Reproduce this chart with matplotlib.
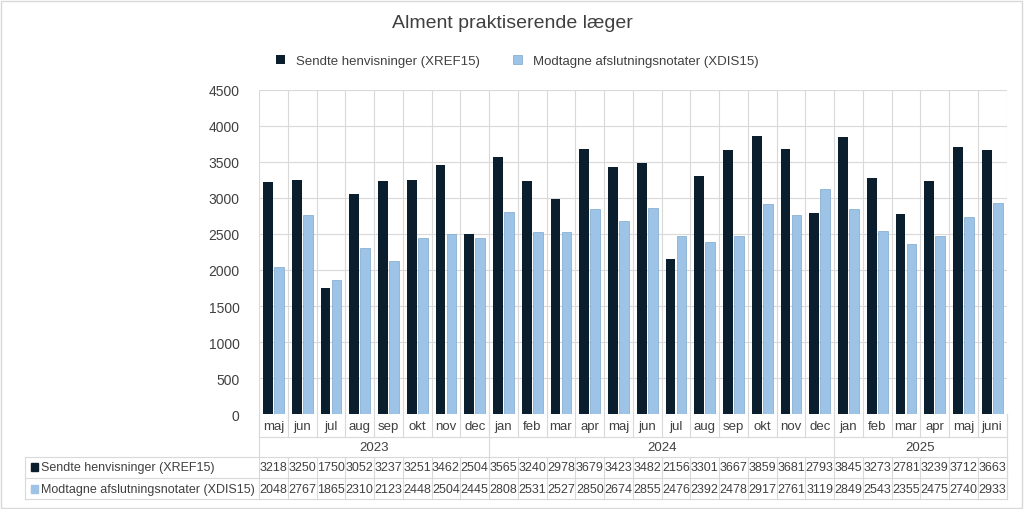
import matplotlib
matplotlib.use('Agg')
import matplotlib.pyplot as plt
import matplotlib.transforms as mtransforms
from matplotlib.patches import Rectangle
import numpy as np

months = ["maj", "jun", "jul", "aug", "sep", "okt", "nov", "dec",
          "jan", "feb", "mar", "apr", "maj", "jun", "jul", "aug", "sep", "okt", "nov", "dec",
          "jan", "feb", "mar", "apr", "maj", "juni"]
years = ["2023", "2024", "2025"]
year_counts = [8, 12, 6]
sendte = [3218, 3250, 1750, 3052, 3237, 3251, 3462, 2504,
          3565, 3240, 2978, 3679, 3423, 3482, 2156, 3301, 3667, 3859, 3681, 2793,
          3845, 3273, 2781, 3239, 3712, 3663]
modtagne = [2048, 2767, 1865, 2310, 2123, 2448, 2504, 2445,
            2808, 2531, 2527, 2850, 2674, 2855, 2476, 2392, 2478, 2917, 2761, 3119,
            2849, 2543, 2355, 2475, 2740, 2933]
names = ["Sendte henvisninger (XREF15)", "Modtagne afslutningsnotater (XDIS15)"]

dark = "#0b1e2d"
light = "#9dc3e6"
grid_c = "#d9d9d9"
txt_c = "#404040"

plt.rcParams["font.family"] = "Liberation Sans"
fig = plt.figure(figsize=(10.24, 5.1), dpi=100)
ax = fig.add_axes([0.253, 0.186, 0.730, 0.636])

n = len(months)
x = np.arange(n)
w = 0.34
ax.bar(x - w / 2 - 0.02, sendte, w, color=dark, label=names[0], zorder=3)
ax.bar(x + w / 2 + 0.02, modtagne, w, color=light, edgecolor="#7fa7cc", linewidth=0.5,
       label=names[1], zorder=3)

ax.set_xlim(-0.5, n - 0.5)
ax.set_ylim(0, 4500)
ax.set_yticks(range(0, 4501, 500))
ax.tick_params(axis="y", length=0, labelsize=10, colors=txt_c, pad=14)
ax.set_xticks([])
ax.yaxis.grid(True, color=grid_c, linewidth=0.8, zorder=0)
for xb in np.arange(-0.5, n, 1.0):
    ax.axvline(xb, color=grid_c, linewidth=0.8, zorder=0)
for s in ax.spines.values():
    s.set_visible(False)

# data table below the axes
tr = mtransforms.blended_transform_factory(ax.transData, fig.transFigure)
def fy(py):
    return 1 - py / 510
line_kw = dict(color=grid_c, linewidth=0.8, transform=tr, clip_on=False)
ftr = fig.transFigure
for i, m in enumerate(months):
    ax.text(i, fy(427), m, ha="center", va="center", fontsize=9.5, color=txt_c, transform=tr)
    ax.text(i, fy(468), str(sendte[i]), ha="center", va="center", fontsize=9, color=txt_c, transform=tr)
    ax.text(i, fy(490), str(modtagne[i]), ha="center", va="center", fontsize=9, color=txt_c, transform=tr)
start = 0
for yname, cnt in zip(years, year_counts):
    ax.text(start + cnt / 2 - 0.5, fy(448), yname, ha="center", va="center",
            fontsize=9.5, color=txt_c, transform=tr)
    ax.plot([start - 0.5, start - 0.5], [fy(415), fy(458)], **line_kw)
    start += cnt
ax.plot([n - 0.5, n - 0.5], [fy(415), fy(500)], **line_kw)
for i in range(n + 1):
    ax.plot([i - 0.5, i - 0.5], [fy(415), fy(438)], **line_kw)
    ax.plot([i - 0.5, i - 0.5], [fy(458), fy(500)], **line_kw)
ax.plot([-0.5, n - 0.5], [fy(438), fy(438)], **line_kw)
for py in (458, 479, 500):
    fig.add_artist(plt.Line2D([25 / 1024, 1007 / 1024], [fy(py), fy(py)], color=grid_c, linewidth=0.8))
fig.add_artist(plt.Line2D([25 / 1024, 25 / 1024], [fy(458), fy(500)], color=grid_c, linewidth=0.8))
for py, col, name in ((468, dark, names[0]), (490, light, names[1])):
    fig.add_artist(Rectangle((31 / 1024, fy(py) - 0.008), 7 / 1024, 0.016, color=col, transform=ftr))
    fig.text(41 / 1024, fy(py), name, ha="left", va="center", fontsize=9, color=txt_c)

fig.text(0.5, fy(24), "Alment praktiserende læger", ha="center", va="center", fontsize=14, color=txt_c)
fig.legend(loc="center", bbox_to_anchor=(0.505, fy(62)), ncol=2, frameon=False,
           fontsize=9.5, handlelength=0.7, handleheight=0.7, columnspacing=2.5, labelcolor=txt_c)

fig.add_artist(Rectangle((0.001, 0.002), 0.997, 0.995, fill=False, edgecolor="#d9d9d9",
                         linewidth=1, transform=ftr))
fig.savefig("out.png", dpi=100)
